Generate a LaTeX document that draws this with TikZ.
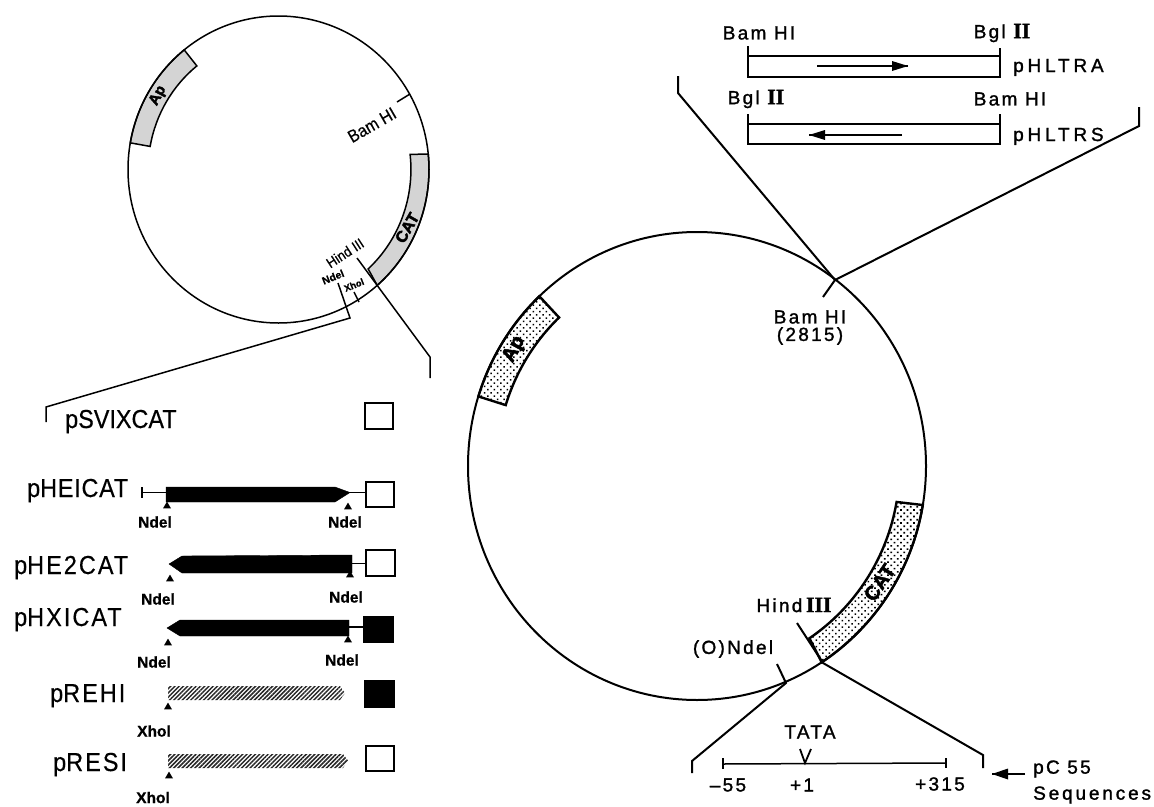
\documentclass[tikz,border=0pt]{standalone}
\usepackage{fontspec}
\setmainfont{Liberation Sans}
\newfontfamily\ls[LetterSpace=12,FakeBold=1.4]{Liberation Sans}
\newfontfamily\lsp[LetterSpace=20,FakeBold=1.4]{Liberation Sans}
\newfontfamily\lsq[LetterSpace=15,FakeBold=1.4]{Liberation Sans}
\newfontfamily\lsr[Scale=1.15,FakeBold=1.5]{Liberation Serif Bold}
\newfontfamily\lc[FakeStretch=.9,FakeBold=.4]{Liberation Sans}
\newfontfamily\blk[FakeBold=2.5]{Liberation Sans Bold}
\newfontfamily\cutf[FakeBold=.8]{Liberation Sans Bold}
\usetikzlibrary{patterns.meta}
\newcommand{\tri}[2]{\fill (#1-4,#2+3.4) -- (#1,#2-3.4) -- (#1+4,#2+3.4) -- cycle;}
\tikzset{
  line/.style={line width=1.5pt,line join=miter},
  thick line/.style={line width=2pt,line join=miter},
  plabel/.style={anchor=base west,inner sep=0pt,font=\lc\fontsize{26}{28}\selectfont},
  siglab/.style={inner sep=0pt,font=\ls\fontsize{19}{22}\selectfont},
  plasmid/.style={anchor=base west,inner sep=0pt,font=\lsp\fontsize{19}{22}\selectfont},
  cutlab/.style={inner sep=0pt,font=\cutf\fontsize{15.5}{17}\selectfont},
  sq/.style={draw,line width=1.8pt,minimum width=28.5pt,minimum height=25.5pt,inner sep=0pt,fill=white},
  sqf/.style={sq,fill=black},
  bar/.style={fill=black,draw=black,line width=.4pt},
  hatch/.style={pattern={Lines[angle=45,distance=3pt,line width=1.5pt]},pattern color=black!85},
  graybox/.style={fill=black!17,line width=1.5pt},
  dotbox/.style={pattern={Dots[distance=4.6pt,radius=1.1pt,angle=45]},pattern color=black,line width=2.4pt}
}
\begin{document}
\begin{tikzpicture}[x=1pt,y=-1pt]
\useasboundingbox (0,0) rectangle (1154,806);

% ---------- small plasmid
\begin{scope}[shift={(278.5,169.5)},x=150.5pt,y=153.5pt]
  \path[graybox,draw] (128.8:1) arc[start angle=128.8,end angle=170,radius=1]
     -- (170:.866) arc[start angle=170,end angle=128.8,radius=.866] -- cycle;
  \path[graybox,draw] (5.8:1) arc[start angle=5.8,end angle=-49,radius=1]
     -- (-47.4:.88) arc[start angle=-47.4,end angle=6.4,radius=.88] -- cycle;
  \draw[line] (0,0) circle[radius=1];
  \node[inner sep=0pt,rotate=62,font=\blk\fontsize{15}{16}\selectfont] (sap) at (149:.933) {Ap};
  \node[inner sep=0pt,rotate=60,font=\blk\fontsize{16}{16}\selectfont] (scat) at (-24:.935) {CAT};
\end{scope}
\coordinate (sbam1) at (410,94); \coordinate (sbam2) at (397,102);
\draw[line] (sbam1) -- (sbam2);
\node[inner sep=0pt,rotate=30,font=\lc\fontsize{17.5}{18}\selectfont] (sbam) at (372,125) {Bam HI};
\node[inner sep=0pt,rotate=33,font=\lc\fontsize{14.5}{16}\selectfont] (shind) at (345,253) {Hind III};
\node[inner sep=0pt,rotate=22,font=\cutf\fontsize{10.5}{12}\selectfont] (sndel) at (333,277) {Ndel};
\node[inner sep=0pt,rotate=22,font=\cutf\fontsize{9.5}{12}\selectfont] (sxhol) at (354,285) {Xhol};
\coordinate (sx1) at (354,292); \coordinate (sx2) at (359,302);
\draw[line] (sx1) -- (sx2);
\coordinate (sn1) at (338,283); \coordinate (sn2) at (350,318);
\coordinate (sn3) at (46,407); \coordinate (sn4) at (46,422);
\draw[line] (sn1) -- (sn2) -- (sn3) -- (sn4);
\coordinate (sh1) at (357,258); \coordinate (sh2) at (430,357); \coordinate (sh3) at (430,378);
\draw[line] (sh1) -- (sh2) -- (sh3);

% ---------- construct list
\node[plabel] (l0) at (65,428) {pSVIXCAT};
\node[plabel] (l1) at (27,497) {p\addfontfeature{LetterSpace=3}HEICAT};
\node[plabel] (l2) at (14,574) {p\addfontfeature{LetterSpace=8}HE2CAT};
\node[plabel] (l3) at (14,626) {p\addfontfeature{LetterSpace=8}HXICAT};
\node[plabel] (l4) at (50,702) {p\addfontfeature{LetterSpace=8}REHI};
\node[plabel] (l5) at (53,771) {p\addfontfeature{LetterSpace=8}RESI};

\node[sq]  (s0) at (379,416) {};
\node[sq]  (s1) at (380,494.5) {};
\node[sq]  (s2) at (380.5,563) {};
\node[sqf] (s3) at (378.5,629.5) {};
\node[sqf] (s4) at (379.5,694) {};
\node[sq]  (s5) at (380,758.5) {};

% pHEICAT
\coordinate (t1a) at (142,487); \coordinate (t1b) at (142,498);
\coordinate (t1c) at (142,492.5); \coordinate (b1l) at (166,492.5);
\coordinate (b1r) at (350,492.5);
\draw[line] (t1a) -- (t1b);
\draw[line] (t1c) -- (b1l);
\path[bar] (166,487) -- (335,487) -- (b1r) -- (335,502) -- (166,502) -- cycle;
\draw[line] (b1r) -- (s1.west |- b1r);
\tri{167}{505}\tri{348}{506}
\node[cutlab] (n1a) at (155,522) {Ndel};
\node[cutlab] (n1b) at (345,522) {Ndel};

% pHE2CAT
\coordinate (b2r) at (352,563.5);
\path[bar] (169,564) -- (182,556) -- (352,555) -- (352,573) -- (182,573) -- cycle;
\draw[line] (b2r) -- (s2.west |- b2r);
\tri{170}{578}\tri{350}{574}
\node[cutlab] (n2a) at (158,599) {Ndel};
\node[cutlab] (n2b) at (346,597) {Ndel};

% pHXICAT
\coordinate (b3r) at (349,627);
\path[bar] (167,628) -- (180,620) -- (349,620) -- (349,636) -- (180,636) -- cycle;
\draw[line] (b3r) -- (s3.west |- b3r);
\tri{168}{642}\tri{348}{639}
\node[cutlab] (n3a) at (154,662) {Ndel};
\node[cutlab] (n3b) at (342,660) {Ndel};

% pREHI / pRESI
\path[hatch] (168,686) -- (340,686) -- (345,693) -- (340,700) -- (168,700) -- cycle;
\tri{168}{706}
\node[cutlab] (n4) at (154,731) {Xhol};
\path[hatch] (168,754) -- (343,754) -- (348,760.5) -- (343,768) -- (168,768) -- cycle;
\tri{169}{775}
\node[cutlab] (n5) at (153,797.5) {Xhol};

% ---------- big plasmid
\begin{scope}[shift={(697,466)},x=229pt,y=234pt]
  \path[dotbox,draw] (133.5:1) arc[start angle=133.5,end angle=162.7,radius=1]
     -- (162.7:.875) arc[start angle=162.7,end angle=133.5,radius=.875] -- cycle;
  \path[dotbox,draw] (-9.6:1) arc[start angle=-9.6,end angle=-57,radius=1]
     -- (-56.3:.885) arc[start angle=-56.3,end angle=-10,radius=.885] -- cycle;
  \draw[thick line] (0,0) circle[radius=1];
  \node[inner sep=0pt,rotate=62,font=\blk\fontsize{20}{20}\selectfont] (bap) at (148:.94) {Ap};
  \node[inner sep=0pt,rotate=56,font=\blk\fontsize{20}{20}\selectfont] (bcat) at (-32:.94) {CAT};
\end{scope}

% ---------- Bam HI expansion
\coordinate (lb1) at (678,76); \coordinate (lb2) at (678,93);
\coordinate (bamc) at (835,280); \coordinate (bamt) at (823,297);
\coordinate (rb1) at (1139,107); \coordinate (rb2) at (1139,126);
\draw[thick line] (lb1) -- (lb2) -- (bamc) -- (rb2) -- (rb1);
\draw[thick line] (bamc) -- (bamt);
\node[siglab] (bam) at (810,317) {Bam HI};
\node[siglab] (pos) at (810,336) {(2815)};

% inserts
\coordinate (a1) at (748,46); \coordinate (a2) at (748,77);
\coordinate (a3) at (1000,77); \coordinate (a4) at (1000,48);
\coordinate (a5) at (748,56); \coordinate (a6) at (1000,56);
\draw[line] (a1) -- (a2) -- (a3) -- (a4);
\draw[line] (a5) -- (a6);
\coordinate (aa1) at (817,66); \coordinate (aa2) at (908,66);
\draw[line width=1.5pt] (aa1) -- (aa2);
\fill (aa2) -- ++(-16,-5) -- ++(0,10) -- cycle;
\node[siglab] (a7) at (759,33) {Bam HI};
\node[siglab] (a8) at (1002,33) {Bgl {\lsr II}};
\node[plasmid] (a9) at (1013,72) {pHLTRA};

\coordinate (c1) at (748,114); \coordinate (c2) at (748,144);
\coordinate (c3) at (1000,144); \coordinate (c4) at (1000,114);
\coordinate (c5) at (748,124); \coordinate (c6) at (1000,124);
\draw[line] (c1) -- (c2) -- (c3) -- (c4);
\draw[line] (c5) -- (c6);
\coordinate (ca1) at (902,135); \coordinate (ca2) at (809,135);
\draw[line width=1.5pt] (ca1) -- (ca2);
\fill (ca2) -- ++(16,-5) -- ++(0,10) -- cycle;
\node[siglab] (c7) at (756,99) {Bgl {\lsr II}};
\node[siglab] (c8) at (1010,99) {Bam HI};
\node[plasmid] (c9) at (1013,141) {pHLTRS};

% ---------- pC55 expansion
\coordinate (h1) at (797,623); \coordinate (h2) at (823,663);
\coordinate (h3) at (983,755); \coordinate (h4) at (983,768);
\draw[thick line] (h1) -- (h2) -- (h3) -- (h4);
\coordinate (o1) at (777,664); \coordinate (o2) at (786,683);
\coordinate (o3) at (692,761); \coordinate (o4) at (692,773);
\draw[thick line] (o1) -- (o2) -- (o3) -- (o4);
\node[siglab] (hind) at (794,605) {Hind{\lsr\,III}};
\node[siglab] (ondel) at (733,649) {(O)Ndel};

\coordinate (m1) at (723,758); \coordinate (m2) at (723,769);
\coordinate (m3) at (946,758); \coordinate (m4) at (946,768);
\coordinate (m5) at (723,764); \coordinate (m6) at (946,763);
\coordinate (v1) at (800,749); \coordinate (v2) at (805,763); \coordinate (v3) at (811,749);
\draw[line] (m1) -- (m2); \draw[line] (m3) -- (m4); \draw[line] (m5) -- (m6);
\draw[line width=1.8pt] (v1) -- (v2) -- (v3);
\node[siglab] (tata) at (810,732) {TATA};
\node[siglab] (mm) at (728,785) {\textendash55};
\node[siglab] (p1) at (802,785) {+1};
\node[siglab] (p3) at (940,784) {+315};
\coordinate (ar1) at (1025,774); \coordinate (ar2) at (992,774);
\draw[line width=1.8pt] (ar1) -- (ar2);
\fill (ar2) -- ++(16,-5.5) -- ++(0,11) -- cycle;
\node[siglab,anchor=west] (pc) at (1033,769) {pC 55};
\node[anchor=west,inner sep=0pt,font=\lsq\fontsize{19}{22}\selectfont] (seq) at (1033,795) {Sequences};
\end{tikzpicture}
\end{document}
